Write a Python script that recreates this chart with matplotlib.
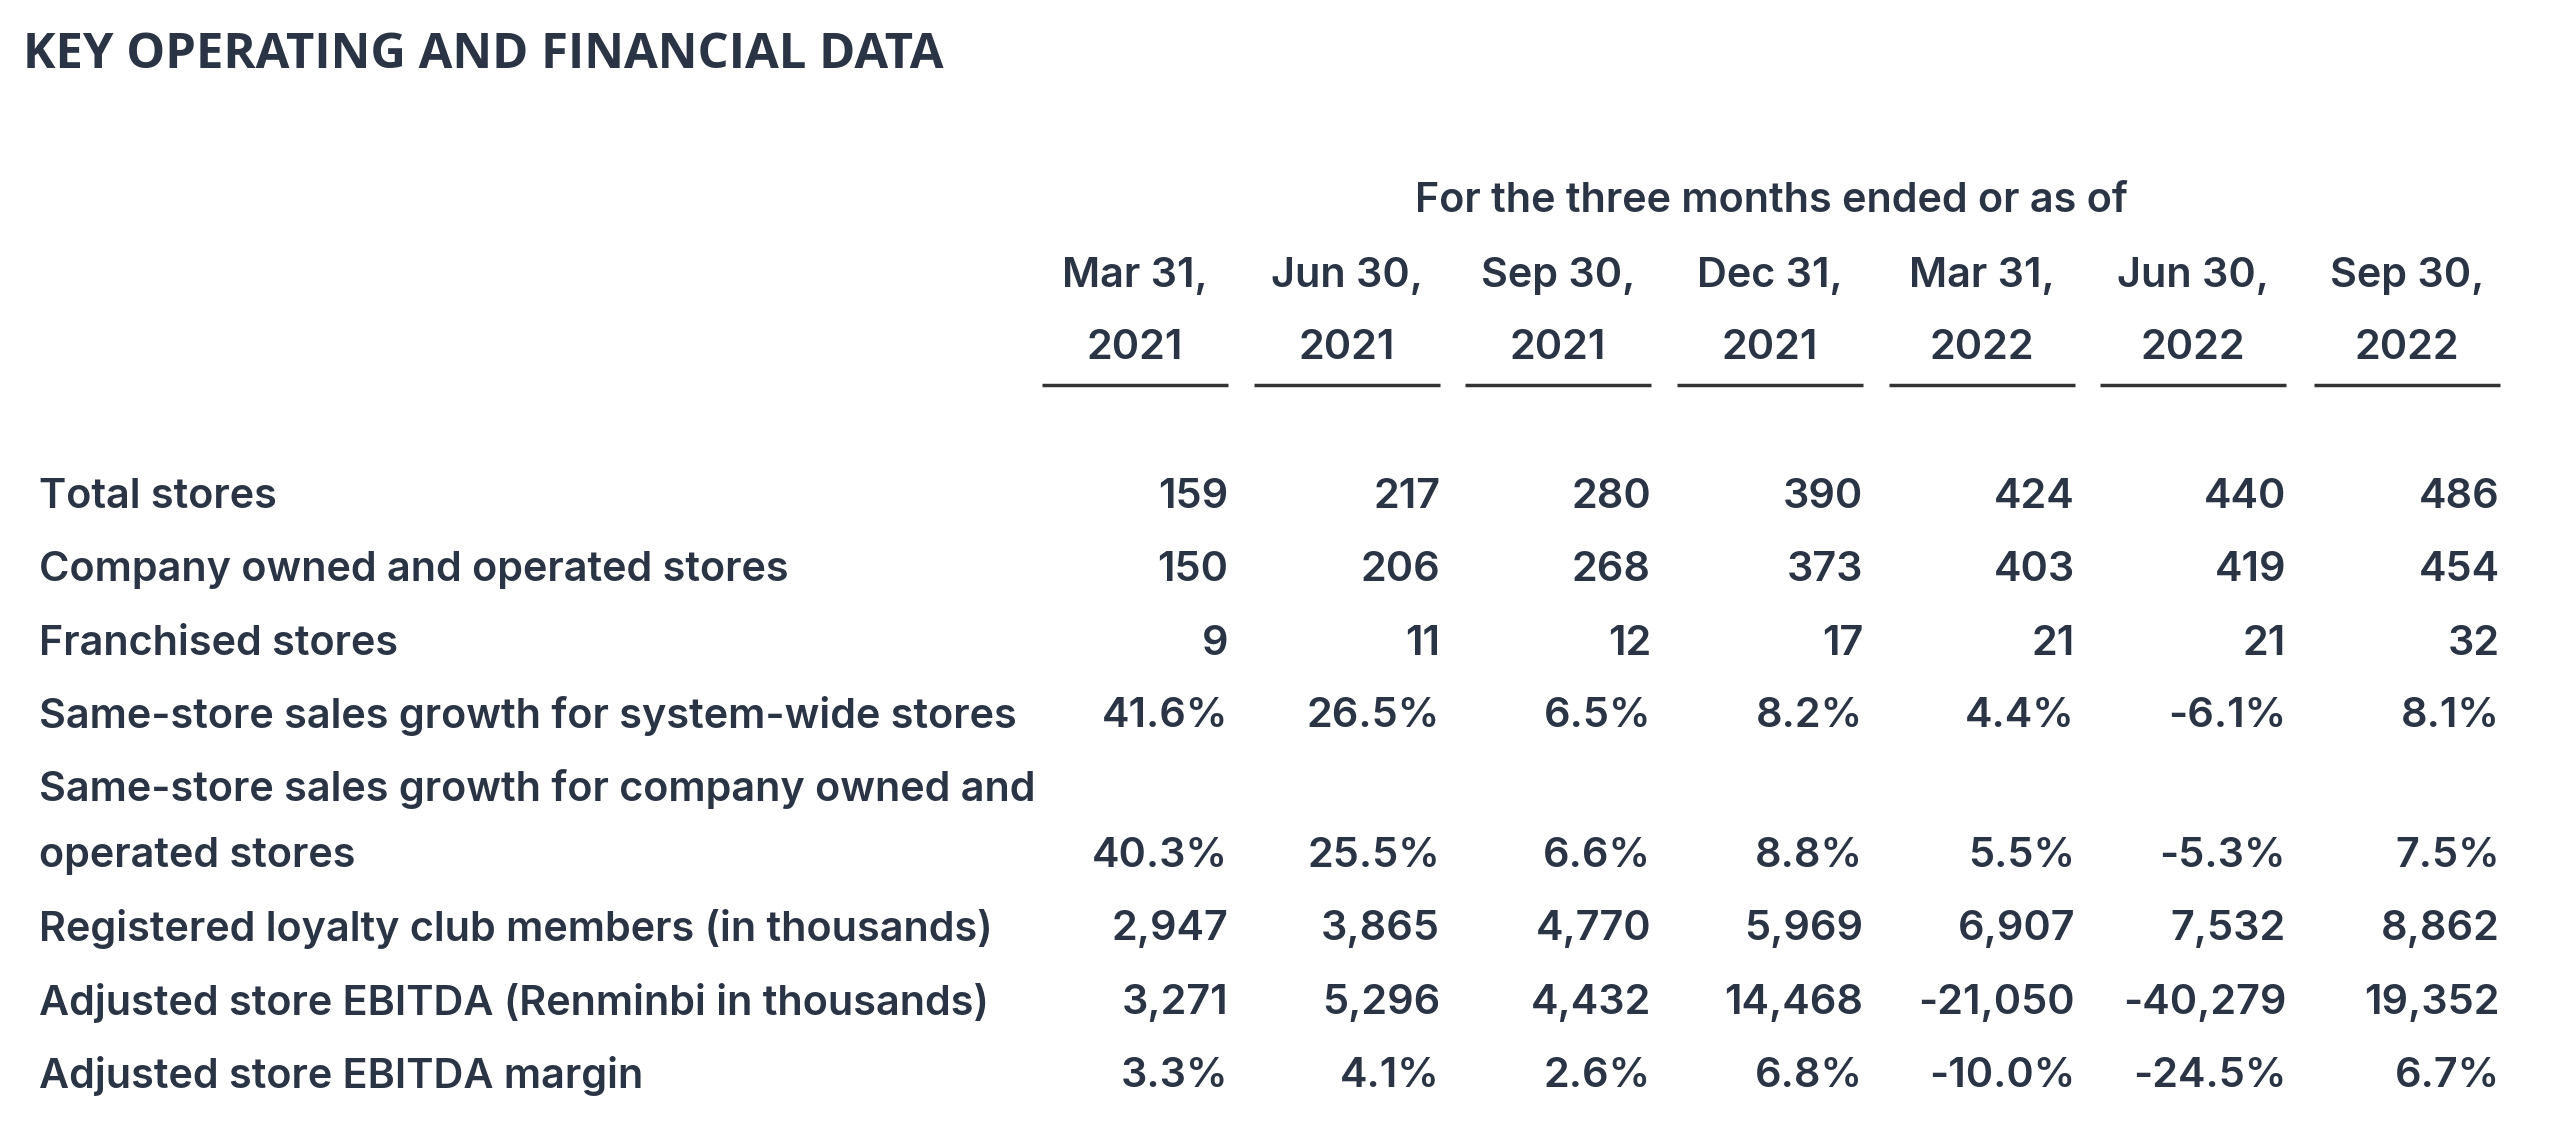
import matplotlib.pyplot as plt

periods = ["Mar 31,\n2021", "Jun 30,\n2021", "Sep 30,\n2021", "Dec 31,\n2021",
           "Mar 31,\n2022", "Jun 30,\n2022", "Sep 30,\n2022"]
row_labels = [
    "Total stores",
    "Company owned and operated stores",
    "Franchised stores",
    "Same-store sales growth for system-wide stores",
    "Same-store sales growth for company owned and\noperated stores",
    "Registered loyalty club members (in thousands)",
    "Adjusted store EBITDA (Renminbi in thousands)",
    "Adjusted store EBITDA margin",
]
total_stores = ["159", "217", "280", "390", "424", "440", "486"]
owned_stores = ["150", "206", "268", "373", "403", "419", "454"]
franchised = ["9", "11", "12", "17", "21", "21", "32"]
sss_system = ["41.6%", "26.5%", "6.5%", "8.2%", "4.4%", "-6.1%", "8.1%"]
sss_owned = ["40.3%", "25.5%", "6.6%", "8.8%", "5.5%", "-5.3%", "7.5%"]
loyalty = ["2,947", "3,865", "4,770", "5,969", "6,907", "7,532", "8,862"]
ebitda = ["3,271", "5,296", "4,432", "14,468", "-21,050", "-40,279", "19,352"]
ebitda_margin = ["3.3%", "4.1%", "2.6%", "6.8%", "-10.0%", "-24.5%", "6.7%"]
rows = [total_stores, owned_stores, franchised, sss_system, sss_owned,
        loyalty, ebitda, ebitda_margin]

ink = "#2b3445"
W, H = 2560, 1132
fig = plt.figure(figsize=(W / 100, H / 100), dpi=100)
ax = fig.add_axes([0, 0, 1, 1])
ax.set_xlim(0, W)
ax.set_ylim(H, 0)
ax.axis("off")

font = "Inter"
fs = 29.8
wt = "semibold"

ax.text(23, 56, "KEY OPERATING AND FINANCIAL DATA", fontsize=35.3, fontweight="bold",
        family="Open Sans", color=ink, va="center", ha="left")

col_right = [1228, 1440, 1651, 1863, 2075, 2286, 2500]
col_w = 186

ax.text((col_right[0] - col_w + col_right[-1]) / 2, 201, "For the three months ended or as of",
        fontsize=fs, family=font, fontweight=wt, color=ink, ha="center", va="center")

for r, p in zip(col_right, periods):
    cx = r - col_w / 2
    top, bottom = p.split("\n")
    ax.text(cx, 276, top, fontsize=fs, family=font, fontweight=wt, color=ink,
            ha="center", va="center")
    ax.text(cx, 348, bottom, fontsize=fs, family=font, fontweight=wt, color=ink,
            ha="center", va="center")
    ax.plot([r - col_w, r], [385, 385], color="#333333", lw=2.5, solid_capstyle="butt")

row_y = [497, 570, 644, 716, 856, 929, 1003, 1076]
for y, label, vals in zip(row_y, row_labels, rows):
    lines = label.split("\n")
    for i, line in enumerate(lines[::-1]):
        ax.text(39, y - i * 67, line, fontsize=fs, family=font, fontweight=wt,
                color=ink, ha="left", va="center")
    for r, v in zip(col_right, vals):
        ax.text(r, y, v, fontsize=fs, family=font, fontweight=wt, color=ink,
                ha="right", va="center")

fig.savefig("out.png", dpi=100, facecolor="white")
